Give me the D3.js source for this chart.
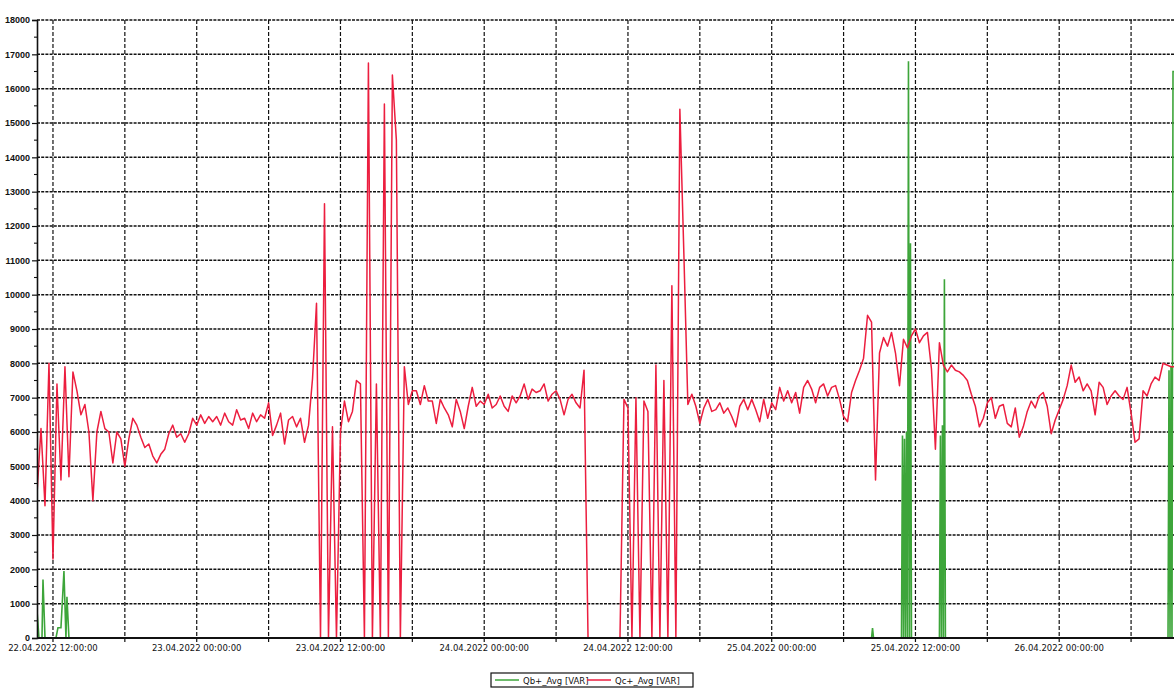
<!DOCTYPE html>
<html>
<head>
<meta charset="utf-8">
<script src="https://cdn.jsdelivr.net/npm/d3@7/dist/d3.min.js"></script>
<style>
body { margin: 0; background: #fff; }
svg { display: block; font-family: "DejaVu Sans", sans-serif; }
</style>
</head>
<body>
<div id="chart"></div>
<script>
// Qc+ (red) is sampled every 20 minutes from the first timestamp
let redStart = "2022-04-22 10:40";
let redStepMinutes = 20;
let redValues = [
	4200, 6100, 3850, 8000, 2300, 7400, 4600, 7900, 4700, 7750,
	7200, 6500, 6800, 6000, 4000, 6000, 6600, 6100, 6000, 5100,
	6000, 5800, 5000, 5800, 6400, 6200, 5850, 5550, 5650, 5300,
	5100, 5350, 5500, 5950, 6200, 5850, 5950, 5700, 5950, 6400,
	6200, 6500, 6250, 6450, 6300, 6450, 6200, 6550, 6300, 6200,
	6650, 6350, 6400, 6100, 6550, 6300, 6500, 6400, 6850, 5900,
	6200, 6550, 5650, 6350, 6450, 6150, 6400, 5700, 6200, 7550,
	9750, 0, 12650, 0, 6150, 0, 6000, 6900, 6300, 6600,
	7500, 7400, 0, 16750, 0, 7400, 0, 15550, 0, 16400,
	14500, 0, 7900, 6800, 7200, 7200, 6800, 7350, 6900, 6900,
	6250, 6950, 6700, 6500, 6150, 6950, 6600, 6100, 6750, 7300,
	6750, 6900, 6800, 7100, 6700, 6800, 7050, 6750, 6600, 7050,
	6850, 7050, 7400, 6950, 7250, 7150, 7200, 7400, 6900, 7100,
	7200, 6950, 6500, 6950, 7100, 6850, 6700, 7800, 0, 0,
	0, 0, 0, 0, 0, 0, 0, 6950, 6700, 0,
	7000, 0, 6900, 6600, 0, 7950, 0, 7500, 0, 10260,
	0, 15400, 11200, 6800, 7100, 6750, 6250, 6700, 6950, 6600,
	6650, 6850, 6550, 6700, 6450, 6150, 6750, 6950, 6650, 6950,
	6650, 6300, 6950, 6400, 6850, 6650, 7300, 6900, 7200, 6850,
	7150, 6550, 7300, 7500, 7250, 6850, 7300, 7400, 7050, 7300,
	7350, 6950, 6450, 6300, 7150, 7500, 7800, 8150, 9400, 9200,
	4600, 8300, 8750, 8500, 8900, 8300, 7350, 8700, 8450, 8800,
	9000, 8600, 8800, 8900, 7850, 5500, 8600, 7950, 7750, 7950,
	7800, 7750, 7650, 7500, 7100, 6750, 6150, 6400, 6850, 7000,
	6400, 6750, 6800, 6250, 6150, 6700, 5850, 6150, 6600, 6900,
	6700, 7050, 7150, 6750, 5950, 6350, 6650, 6950, 7350, 7950,
	7450, 7600, 7200, 7400, 7200, 6500, 7450, 7300, 6800, 7050,
	7200, 7050, 6950, 7300, 6550, 5700, 5800, 7200, 7050, 7400,
	7600, 7500, 8000, 7950, 7900, 7900
];

// Qb+ (green) is zero most of the time, only its change points are listed
let greenTimes = [
	"2022-04-22 10:40", "2022-04-22 10:50", "2022-04-22 11:05", "2022-04-22 11:10",
	"2022-04-22 11:20", "2022-04-22 12:15", "2022-04-22 12:25", "2022-04-22 12:40",
	"2022-04-22 12:55", "2022-04-22 13:05", "2022-04-22 13:10", "2022-04-22 13:20",
	"2022-04-25 08:20", "2022-04-25 08:25", "2022-04-25 08:30",
	"2022-04-25 10:50", "2022-04-25 10:55", "2022-04-25 11:00", "2022-04-25 11:05",
	"2022-04-25 11:10", "2022-04-25 11:15", "2022-04-25 11:20", "2022-04-25 11:25",
	"2022-04-25 11:30", "2022-04-25 11:35", "2022-04-25 11:40",
	"2022-04-25 14:00", "2022-04-25 14:05", "2022-04-25 14:10", "2022-04-25 14:15",
	"2022-04-25 14:20", "2022-04-25 14:25", "2022-04-25 14:30",
	"2022-04-26 09:05", "2022-04-26 09:10", "2022-04-26 09:15", "2022-04-26 09:20",
	"2022-04-26 09:25", "2022-04-26 09:30", "2022-04-26 09:35"
];
let greenValues = [
	800, 0, 0, 1700,
	0, 0, 300, 300,
	1950, 0, 1200, 0,
	0, 290, 0,
	0, 5900, 0, 5800,
	0, 6000, 0, 16800,
	0, 11500, 0,
	0, 5900, 0, 6200,
	0, 10450, 0,
	0, 7800, 0, 7900,
	0, 16500, 16500
];

let yTickValues = [0, 1000, 2000, 3000, 4000, 5000, 6000, 7000, 8000, 9000,
	10000, 11000, 12000, 13000, 14000, 15000, 16000, 17000, 18000];
let xLabelTimes = ["2022-04-22 12:00", "2022-04-23 00:00", "2022-04-23 12:00",
	"2022-04-24 00:00", "2022-04-24 12:00", "2022-04-25 00:00",
	"2022-04-25 12:00", "2022-04-26 00:00"];
let xDomain = ["2022-04-22 10:40", "2022-04-26 09:35"];
let seriesNames = ["Qb+_Avg [VAR]", "Qc+_Avg [VAR]"];
let seriesColors = ["#3da53a", "#ec1e3f"];

let svgWidth = 1174;
let svgHeight = 688;
let plot = { left: 37, right: 1174, top: 20, bottom: 638 };

let parse = d3.timeParse("%Y-%m-%d %H:%M");
let fmt = d3.timeFormat("%d.%m.%Y %H:%M:%S");

let xScale = d3.scaleTime()
	.domain(xDomain.map(parse))
	.range([plot.left, plot.right]);

let yScale = d3.scaleLinear()
	.domain([0, 18000])
	.range([plot.bottom, plot.top]);

let svg = d3.select("#chart")
	.append("svg")
	.attr("width", svgWidth)
	.attr("height", svgHeight);

svg.append("rect")
	.attr("width", svgWidth)
	.attr("height", svgHeight)
	.attr("fill", "#fff");

svg.append("clipPath")
	.attr("id", "plotClip")
	.append("rect")
	.attr("x", plot.left)
	.attr("y", 0)
	.attr("width", plot.right - plot.left)
	.attr("height", plot.bottom + 1);

// grid
let gridTimes = xScale.ticks(d3.timeHour.every(6));

svg.append("g")
	.selectAll("line")
	.data(yTickValues.slice(1))
	.enter()
	.append("line")
	.attr("x1", plot.left)
	.attr("x2", plot.right)
	.attr("y1", d => yScale(d))
	.attr("y2", d => yScale(d))
	.attr("stroke", "#111")
	.attr("stroke-width", 1.5)
	.attr("stroke-dasharray", "3,1.2");

svg.append("g")
	.selectAll("line")
	.data(gridTimes)
	.enter()
	.append("line")
	.attr("x1", d => xScale(d))
	.attr("x2", d => xScale(d))
	.attr("y1", plot.top)
	.attr("y2", plot.bottom + 4)
	.attr("stroke", "#111")
	.attr("stroke-width", 1.2)
	.attr("stroke-dasharray", "4,2");

// series
let redData = redValues.map((v, i) => ({
	t: d3.timeMinute.offset(parse(redStart), i * redStepMinutes),
	v: v
}));
let greenData = greenTimes.map((t, i) => ({ t: parse(t), v: greenValues[i] }));

let line = d3.line()
	.x(d => xScale(d.t))
	.y(d => yScale(d.v));

let lines = svg.append("g").attr("clip-path", "url(#plotClip)");

lines.append("path")
	.datum(greenData)
	.attr("d", line)
	.attr("fill", "none")
	.attr("stroke", seriesColors[0])
	.attr("stroke-width", 1.6);

lines.append("path")
	.datum(redData)
	.attr("d", line)
	.attr("fill", "none")
	.attr("stroke", seriesColors[1])
	.attr("stroke-width", 1.5)
	.attr("stroke-linejoin", "round");

// axes
let leftAxis = d3.axisLeft(yScale)
	.tickValues(yTickValues)
	.tickSize(5)
	.tickPadding(2)
	.tickFormat(d3.format("d"));

let yAxisG = svg.append("g")
	.attr("transform", `translate(${plot.left}, 0)`)
	.call(leftAxis);

yAxisG.selectAll(".tick line").attr("stroke", "#111").attr("stroke-width", 1.2);
yAxisG.select(".domain").attr("stroke", "#111").attr("stroke-width", 1.6);
yAxisG.selectAll("text")
	.attr("fill", "#111")
	.style("font-size", "9px")
	.style("font-weight", "bold");

// minor ticks at half steps
yAxisG.append("g")
	.selectAll("line")
	.data(yTickValues.slice(0, -1))
	.enter()
	.append("line")
	.attr("x1", -3)
	.attr("x2", 0)
	.attr("y1", d => yScale(d + 500))
	.attr("y2", d => yScale(d + 500))
	.attr("stroke", "#111")
	.attr("stroke-width", 1.1);

svg.append("line")
	.attr("x1", plot.left)
	.attr("x2", plot.right)
	.attr("y1", plot.bottom)
	.attr("y2", plot.bottom)
	.attr("stroke", "#111")
	.attr("stroke-width", 1.8);

svg.append("g")
	.selectAll("text")
	.data(xLabelTimes.map(parse))
	.enter()
	.append("text")
	.attr("x", d => xScale(d))
	.attr("y", plot.bottom + 13)
	.attr("text-anchor", "middle")
	.attr("fill", "#111")
	.style("font-size", "8.5px")
	.text(d => fmt(d));

// legend
let legend = svg.append("g").attr("transform", "translate(491, 673)");

legend.append("rect")
	.attr("width", 202)
	.attr("height", 14)
	.attr("fill", "#fff")
	.attr("stroke", "#111")
	.attr("stroke-width", 1.2);

let legendItems = legend.selectAll(".item")
	.data(seriesNames)
	.enter()
	.append("g")
	.attr("class", "item")
	.attr("transform", (d, i) => `translate(${i === 0 ? 4 : 96}, 0)`);

legendItems.append("line")
	.attr("x1", 0)
	.attr("x2", 24)
	.attr("y1", 7)
	.attr("y2", 7)
	.attr("stroke", (d, i) => seriesColors[i])
	.attr("stroke-width", 1.5);

legendItems.append("text")
	.attr("x", 28)
	.attr("y", 10.5)
	.attr("fill", "#111")
	.style("font-size", "8.5px")
	.text(d => d);
</script>
</body>
</html>
